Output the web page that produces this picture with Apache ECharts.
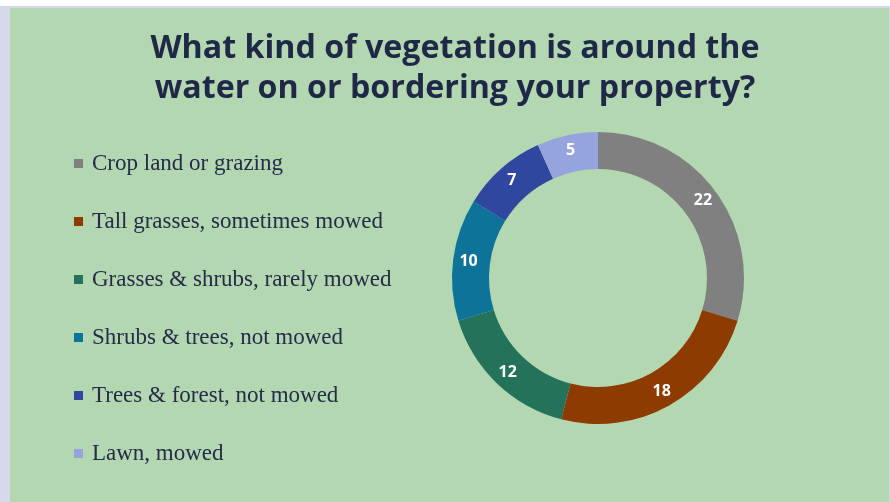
<!DOCTYPE html>
<html>
<head>
<meta charset="utf-8">
<script src="https://cdn.jsdelivr.net/npm/echarts@6/dist/echarts.min.js"></script>
<style>
  html, body { margin: 0; padding: 0; width: 890px; height: 502px; background: #ffffff; overflow: hidden; }
  #frame { position: absolute; left: 0; top: 6px; width: 890px; height: 496px; background: #d6d9ec; }
  #chart { position: absolute; left: 10px; top: 8px; width: 879px; height: 494px; }
</style>
</head>
<body>
<div id="frame"></div>
<div id="chart"></div>
<script>
const title = 'What kind of vegetation is around the\nwater on or bordering your property?';
const categories = [
  'Crop land or grazing',
  'Tall grasses, sometimes mowed',
  'Grasses & shrubs, rarely mowed',
  'Shrubs & trees, not mowed',
  'Trees & forest, not mowed',
  'Lawn, mowed'
];
const counts = [22, 18, 12, 10, 7, 5];
const colors = ['#808080', '#8e3b00', '#237259', '#0e7399', '#2f479e', '#95a4dc'];

const chart = echarts.init(document.getElementById('chart'));

chart.setOption({
  backgroundColor: '#b3d7b1',
  animation: false,
  color: colors,
  title: {
    text: title,
    left: 440,
    textAlign: 'center',
    top: 16,
    textStyle: {
      fontFamily: 'Open Sans',
      fontWeight: 'bold',
      fontSize: 32.2,
      lineHeight: 40,
      color: '#1f2947'
    }
  },
  legend: {
    orient: 'vertical',
    left: 59,
    top: 139,
    itemWidth: 9,
    itemHeight: 9,
    itemGap: 35,
    icon: 'rect',
    textStyle: {
      fontFamily: 'Liberation Serif',
      fontSize: 23,
      color: '#262b48',
      lineHeight: 22,
      padding: [0, 0, 0, 4]
    },
    data: categories
  },
  series: [{
    type: 'pie',
    center: [588, 270],
    radius: [109, 146],
    startAngle: 90,
    clockwise: true,
    avoidLabelOverlap: false,
    itemStyle: { borderWidth: 0 },
    label: {
      show: true,
      position: 'inside',
      color: '#ffffff',
      fontFamily: 'Open Sans',
      fontWeight: 'bold',
      fontSize: 16,
      formatter: '{c}'
    },
    labelLine: { show: false },
    emphasis: { disabled: true },
    data: categories.map((name, i) => ({ name, value: counts[i] }))
  }]
});
</script>
</body>
</html>
